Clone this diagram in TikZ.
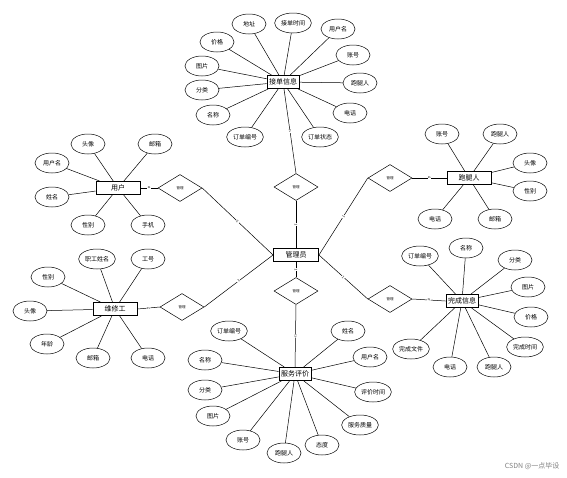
\documentclass[tikz,border=0pt]{standalone}
\usepackage{fontspec}
\newfontfamily\cjk{Noto Sans CJK SC}
\usetikzlibrary{shapes.geometric}
\tikzset{
    attrnode/.style = {ellipse, draw=black, line width=0.5pt, minimum width=34pt, minimum height=20pt, inner sep=1pt, fill=white, font=\cjk\fontsize{6}{6}\selectfont},
    entnode/.style = {rectangle, draw=black, line width=0.9pt, minimum height=13pt, inner sep=2pt, fill=white, font=\cjk\fontsize{7}{7}\selectfont},
    relnode/.style = {diamond, draw=black, line width=0.5pt, minimum width=44pt, minimum height=27pt, inner sep=0pt, fill=white, font=\cjk\fontsize{3.5}{3.5}\selectfont},
    edgen/.style = {draw=black, line width=0.5pt},
    card/.style = {midway, sloped, fill=white, inner sep=0.3pt, font=\fontsize{4}{4}\selectfont}
}
\begin{document}
\begin{tikzpicture}[x=1pt, y=-1pt]
  \useasboundingbox (0,0) rectangle (567,477);

  % entities
  \node[entnode] (jd) at (283,82) {接单信息};
  \node[entnode, minimum width=44pt] (yh) at (118,188) {用户};
  \node[entnode, minimum width=44pt] (pt) at (469,178) {跑腿人};
  \node[entnode, minimum width=45pt] (gl) at (296,255) {管理员};
  \node[entnode, minimum width=44pt] (wx) at (115,309) {维修工};
  \node[entnode] (wc) at (462,301) {完成信息};
  \node[entnode] (fw) at (295,374) {服务评价};

  % relations
  \node[relnode] (r1) at (180,188) {管理};
  \node[relnode] (r2) at (296,187) {管理};
  \node[relnode] (r3) at (390,178) {管理};
  \node[relnode] (r4) at (182,307) {管理};
  \node[relnode] (r5) at (296,291) {管理};
  \node[relnode] (r6) at (390,299) {管理};

  % 接单信息
  \node[attrnode] (jd1) at (249,24) {地址};
  \node[attrnode] (jd2) at (293,23) {接单时间};
  \node[attrnode] (jd3) at (338,29) {用户名};
  \node[attrnode] (jd4) at (353,55) {账号};
  \node[attrnode] (jd5) at (360,83) {跑腿人};
  \node[attrnode] (jd6) at (350,113) {电话};
  \node[attrnode] (jd7) at (320,137) {订单状态};
  \node[attrnode] (jd8) at (245,137) {订单编号};
  \node[attrnode] (jd9) at (213,115) {名称};
  \node[attrnode] (jd10) at (202,90) {分类};
  \node[attrnode] (jd11) at (202,66) {图片};
  \node[attrnode] (jd12) at (217,42) {价格};
  \foreach \i in {1,...,12} \draw[edgen] (jd) -- (jd\i);

  % 用户
  \node[attrnode] (yh1) at (88,144) {头像};
  \node[attrnode] (yh2) at (155,144) {邮箱};
  \node[attrnode] (yh3) at (52,163) {用户名};
  \node[attrnode] (yh4) at (52,197) {姓名};
  \node[attrnode] (yh5) at (88,225) {性别};
  \node[attrnode] (yh6) at (148,225) {手机};
  \foreach \i in {1,...,6} \draw[edgen] (yh) -- (yh\i);

  % 跑腿人
  \node[attrnode] (pt1) at (442,134) {账号};
  \node[attrnode] (pt2) at (500,134) {跑腿人};
  \node[attrnode] (pt3) at (530,163) {头像};
  \node[attrnode] (pt4) at (530,191) {性别};
  \node[attrnode] (pt5) at (435,219) {电话};
  \node[attrnode] (pt6) at (495,219) {邮箱};
  \foreach \i in {1,...,6} \draw[edgen] (pt) -- (pt\i);

  % 维修工
  \node[attrnode] (wx1) at (97,259) {职工姓名};
  \node[attrnode] (wx2) at (148,259) {工号};
  \node[attrnode] (wx3) at (48,277) {性别};
  \node[attrnode] (wx4) at (30,311) {头像};
  \node[attrnode] (wx5) at (47,344) {年龄};
  \node[attrnode] (wx6) at (93,358) {邮箱};
  \node[attrnode] (wx7) at (148,358) {电话};
  \foreach \i in {1,...,7} \draw[edgen] (wx) -- (wx\i);

  % 完成信息
  \node[attrnode] (wc1) at (420,256) {订单编号};
  \node[attrnode] (wc2) at (466,248) {名称};
  \node[attrnode] (wc3) at (515,260) {分类};
  \node[attrnode] (wc4) at (528,287) {图片};
  \node[attrnode] (wc5) at (531,317) {价格};
  \node[attrnode] (wc6) at (525,347) {完成时间};
  \node[attrnode] (wc7) at (494,367) {跑腿人};
  \node[attrnode] (wc8) at (450,367) {电话};
  \node[attrnode] (wc9) at (411,349) {完成文件};
  \foreach \i in {1,...,9} \draw[edgen] (wc) -- (wc\i);

  % 服务评价
  \node[attrnode] (fw1) at (229,331) {订单编号};
  \node[attrnode] (fw2) at (348,331) {姓名};
  \node[attrnode] (fw3) at (370,357) {用户名};
  \node[attrnode] (fw4) at (373,392) {评价时间};
  \node[attrnode] (fw5) at (360,425) {服务质量};
  \node[attrnode] (fw6) at (322,445) {态度};
  \node[attrnode] (fw7) at (284,453) {跑腿人};
  \node[attrnode] (fw8) at (243,440) {账号};
  \node[attrnode] (fw9) at (213,416) {图片};
  \node[attrnode] (fw10) at (205,390) {分类};
  \node[attrnode] (fw11) at (205,360) {名称};
  \foreach \i in {1,...,11} \draw[edgen] (fw) -- (fw\i);

  % relation links
  \draw[edgen] (yh.east) -- node[card] {n} (r1.west);
  \draw[edgen] (r1.east) -- node[card] {1} (gl.west);
  \draw[edgen] (jd) -- node[card] {n} (r2.north);
  \draw[edgen] (r2.south) -- node[card] {1} (gl.north);
  \draw[edgen] (pt.west) -- node[card] {n} (r3.east);
  \draw[edgen] (r3.west) -- node[card] {1} (gl.east);
  \draw[edgen] (wx.east) -- node[card] {n} (r4.west);
  \draw[edgen] (r4.east) -- node[card] {1} (gl.west);
  \draw[edgen] (gl.south) -- node[card] {1} (r5.north);
  \draw[edgen] (r5.south) -- node[card] {n} (fw.north);
  \draw[edgen] (wc.west) -- node[card] {n} (r6.east);
  \draw[edgen] (r6.west) -- node[card] {1} (gl.east);

  \node[font=\cjk\fontsize{7}{7}\selectfont, text=gray, anchor=east] (wm) at (563,466) {CSDN @一点毕设};
\end{tikzpicture}
\end{document}
